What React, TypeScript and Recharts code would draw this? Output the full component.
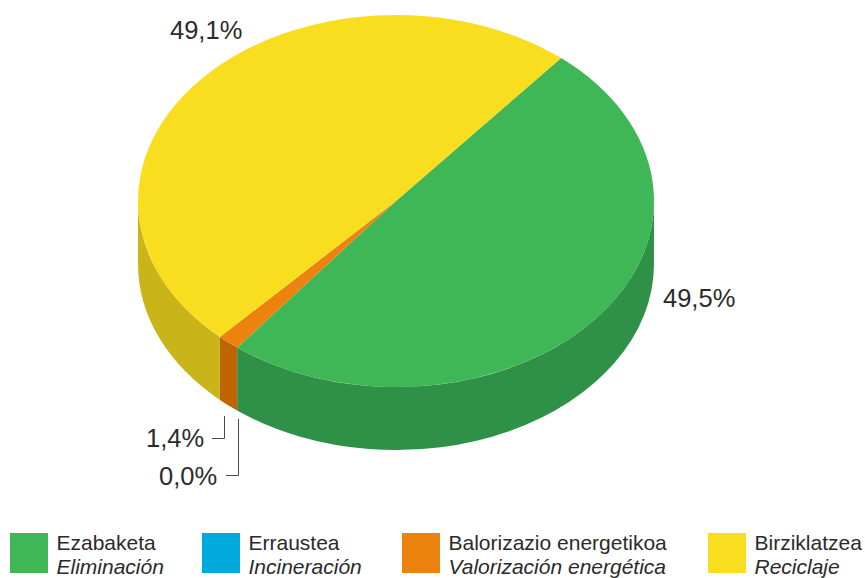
import { PieChart, Pie, Cell, Legend } from "recharts"

const names = ["Ezabaketa", "Erraustea", "Balorizazio energetikoa", "Birziklatzea"]
const namesEs = ["Eliminación", "Incineración", "Valorización energética", "Reciclaje"]
const values = [49.5, 0, 1.4, 49.1]
const valueLabels = ["49,5%", "0,0%", "1,4%", "49,1%"]
const colors = ["#3fb757", "#00a9dc", "#ec830f", "#f9de1f"]
const sideColors = ["#2f9147", "#0080a8", "#bf6404", "#c9b519"]

const data = names.map((name, i) => ({ name, value: values[i] }))

const FONT = "'Liberation Sans', Arial, sans-serif"
const TEXT = "#2b2b2a"
const SQUASH = 186 / 258
const DEPTH = 63

// recharts gives the angles, we just flatten the circle and add the wall
function Sector3D(props: any) {
  const { cx, cy, outerRadius, startAngle, endAngle, index } = props
  if (startAngle === endAngle) return null
  const rx = outerRadius
  const ry = outerRadius * SQUASH
  const pt = (deg: number, dy = 0) => {
    const r = (deg * Math.PI) / 180
    return `${cx + rx * Math.cos(r)} ${cy - ry * Math.sin(r) + dy}`
  }
  const large = startAngle - endAngle > 180 ? 1 : 0
  const top = `M${cx} ${cy}L${pt(startAngle)}A${rx} ${ry} 0 ${large} 1 ${pt(endAngle)}Z`

  // only the front half of the rim has a visible wall
  const a1 = Math.min(startAngle, 0)
  const a2 = Math.max(endAngle, -180)
  const wall =
    a1 > a2
      ? `M${pt(a1)}A${rx} ${ry} 0 0 1 ${pt(a2)}L${pt(a2, DEPTH)}A${rx} ${ry} 0 0 0 ${pt(a1, DEPTH)}Z`
      : null

  return (
    <g>
      {wall && <path d={wall} fill={sideColors[index]} />}
      <path d={top} fill={colors[index]} />
    </g>
  )
}

const labelPos = [
  { x: 663, y: 307 },
  { x: 159, y: 485 },
  { x: 146, y: 447 },
  { x: 170, y: 39 },
]
const leaders: Record<number, string> = {
  1: "238.5,419 238.5,475.5 226,475.5",
  2: "224.5,416 224.5,438.5 212,438.5",
}

function renderLabel(props: any) {
  const i = props.index
  return (
    <g key={i}>
      {leaders[i] && <polyline points={leaders[i]} fill="none" stroke="#4a4a4a" strokeWidth={1} />}
      <text x={labelPos[i].x} y={labelPos[i].y} fontSize={25.5} fontFamily={FONT} fill={TEXT}>
        {valueLabels[i]}
      </text>
    </g>
  )
}

const legendX = [10, 202, 402, 708]

function renderLegend() {
  return (
    <div style={{ position: "relative", width: 865, height: 45, fontFamily: FONT, fontSize: 21, color: TEXT }}>
      {names.map((name, i) => (
        <div key={name} style={{ position: "absolute", left: legendX[i], top: 0, whiteSpace: "nowrap" }}>
          <div style={{ position: "absolute", left: 0, top: 0, width: 38, height: 40, background: colors[i] }} />
          <div style={{ position: "absolute", left: 46.5, top: -2, lineHeight: "24px" }}>
            {name}
            <br />
            <i>{namesEs[i]}</i>
          </div>
        </div>
      ))}
    </div>
  )
}

export default function App() {
  return (
    <div style={{ position: "absolute", left: 0, top: 0, width: 865, height: 578 }}>
      <PieChart width={865} height={578} margin={{ top: 0, right: 0, bottom: 0, left: 0 }}>
        <Pie
          data={data}
          dataKey="value"
          nameKey="name"
          cx={396}
          cy={201}
          outerRadius={258}
          startAngle={50.2}
          endAngle={-309.8}
          stroke="none"
          shape={Sector3D}
          label={renderLabel}
          labelLine={false}
          isAnimationActive={false}
        >
          {data.map((d, i) => (
            <Cell key={d.name} fill={colors[i]} />
          ))}
        </Pie>
        <Legend content={renderLegend} wrapperStyle={{ left: 0, top: 533, width: 865 }} />
      </PieChart>
    </div>
  )
}
